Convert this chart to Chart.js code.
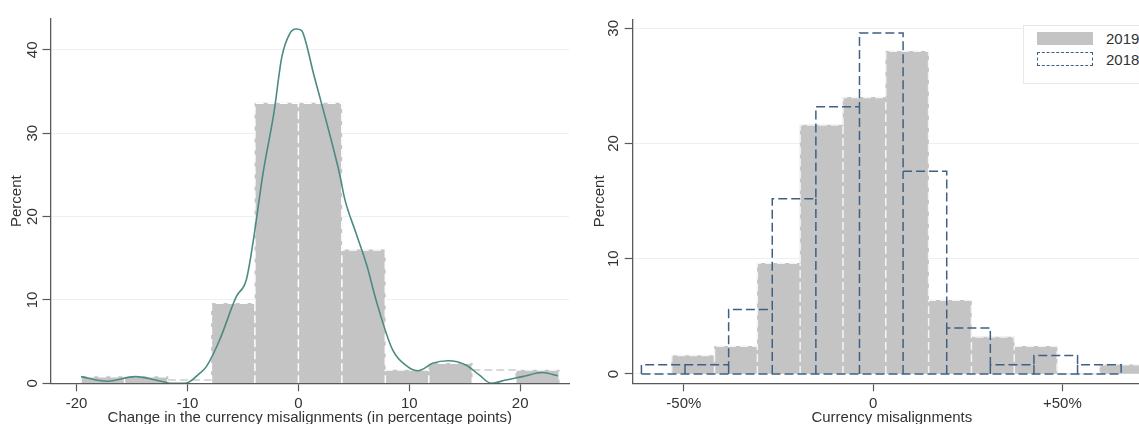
<!DOCTYPE html>
<html>
<head>
<meta charset="utf-8">
<title>Currency misalignments</title>
<script src="https://cdn.jsdelivr.net/npm/chart.js@4.4.1/dist/chart.umd.min.js"></script>
<style>
  html, body { margin: 0; padding: 0; background: #fff; overflow: hidden; }
  #wrap { position: relative; width: 1139px; height: 424px; overflow: hidden; background: #fff; }
  #wrap canvas { position: absolute; top: 0; }
  #changeChart { left: 0; }
  #levelChart { left: 580px; }
  #legend {
    position: absolute; left: 1023px; top: 25px; width: 150px; height: 57px;
    border: 1px solid #e3eaec; background: #fff;
    font: 15px "Liberation Sans", Arial, Helvetica, sans-serif; color: #333;
  }
  .item { position: absolute; left: 13px; height: 20px; }
  .swatch { position: absolute; left: 0; width: 56px; height: 13px; box-sizing: border-box; }
  .label { position: absolute; left: 69px; top: -1px; line-height: 15px; }
  #item2019 { top: 6px; }
  #item2018 { top: 26px; }
  #item2019 .swatch { background: #c4c4c4; }
  #item2018 .swatch { background: #fff; border: 1.5px dashed #3f6082; height: 14px; }
  #item2018 .label { top: 0px; }
</style>
</head>
<body>
<div id="wrap">
  <canvas id="changeChart" width="580" height="424"></canvas>
  <canvas id="levelChart" width="575" height="424"></canvas>
  <div id="legend">
    <div class="item" id="item2019"><div class="swatch"></div><div class="label">2019</div></div>
    <div class="item" id="item2018"><div class="swatch"></div><div class="label">2018</div></div>
  </div>
</div>
<script>
// ---- Left panel: change in misalignment, 2018 -> 2019 (percentage points) ----
const changeBinEdges = [-19.6, -15.68, -11.76, -7.84, -3.92, 0, 3.92, 7.84, 11.76, 15.68, 19.6, 23.52];
const changePercent  = [0.8, 0.8, 0, 9.6, 33.6, 33.6, 16, 1.6, 2.4, 0, 1.6];
// light dashed tops drawn over two of the empty bins
const faintBinIndex  = [2, 9];
const faintBinValue  = [0.4, 1.6];
// kernel density estimate, scaled to percent
const kdeX = [-19.6, -17.3, -14.7, -12.4, -11.5, -10.2, -8.9, -8.3, -7.1, -5.6, -4.7, -4.1, -3.2, -2.2, -1.5, -0.8, -0.2,
              0.3, 0.7, 1.3, 2.0, 2.8, 3.7, 4.2, 5.2, 6.2, 7.0, 8.5, 9.85, 10.8, 12.1, 13.5, 15.1, 16.3, 17.4, 18.7, 20.2, 22.0, 23.4];
const kdeY = [0.8, 0.25, 0.8, 0.25, 0.0, 0.0, 1.2, 2.0, 5.2, 10.4, 12.4, 16.8, 25.1, 32.5, 39.1, 41.9, 42.5,
              42.3, 40.8, 37.5, 34.0, 30.0, 25.2, 22.0, 18.0, 14.0, 10.0, 4.0, 2.0, 1.5, 2.4, 2.7, 2.2, 1.0, 0.0, 0.4, 0.8, 1.3, 0.9];
const changeTicks = [-20, -10, 0, 10, 20];
const changePercentTicks = [0, 10, 20, 30, 40];

// ---- Right panel: level of misalignment (%), 2019 vs 2018 ----
const edges2019   = [-53.2, -41.89, -30.58, -19.27, -7.96, 3.35, 14.66, 25.97, 37.28, 48.59, 59.9, 71.21];
const percent2019 = [1.6, 2.4, 9.6, 21.6, 24.0, 28.0, 6.4, 3.2, 2.4, 0, 0.8];
const edges2018   = [-61.2, -49.68, -38.16, -26.64, -15.12, -3.6, 7.92, 19.44, 30.96, 42.48, 54.0, 65.52];
const percent2018 = [0.8, 0.8, 5.6, 15.2, 23.2, 29.6, 17.6, 4.0, 0.8, 1.6, 0.8];
const levelTicks = [-50, 0, 50];
const levelTickLabels = ['-50%', '0', '+50%'];
const levelPercentTicks = [0, 10, 20, 30];

// ---- helpers that turn bins into library data ----
function barPoints(edges, values) {
  return values.map((v, i) => ({ x: (edges[i] + edges[i + 1]) / 2, y: v }));
}
// rectangle outline of a histogram: top contour, optional baseline, shared inner edges
function outlinePoints(edges, values, withBase) {
  const pts = [{ x: edges[0], y: 0 }];
  values.forEach((v, i) => { pts.push({ x: edges[i], y: v }); pts.push({ x: edges[i + 1], y: v }); });
  pts.push({ x: edges[edges.length - 1], y: 0 });
  if (withBase) pts.push({ x: edges[0], y: 0 });
  for (let i = 1; i < values.length; i++) {
    const m = Math.min(values[i - 1], values[i]);
    if (m > 0) {
      pts.push({ x: edges[i], y: null });
      pts.push({ x: edges[i], y: 0 });
      pts.push({ x: edges[i], y: m });
    }
  }
  return pts;
}

const FONT = { family: '"Liberation Sans", Arial, Helvetica, sans-serif', size: 15, lineHeight: 1 };
const TEXT = '#333333';
const AXIS = '#5a5a5a';
const GRID = '#e9f1f3';
const BAR  = '#c4c4c4';

Chart.defaults.font = FONT;
Chart.defaults.color = TEXT;

function fixedTicks(values) {
  return scale => { scale.ticks = values.map(v => ({ value: v })); };
}

function xAxis(min, max, ticks, title, height, labels) {
  return {
    type: 'linear', min, max, offset: false, bounds: 'data',
    afterBuildTicks: fixedTicks(ticks),
    afterFit: s => { s.height = height; },
    grid: { offset: false, drawOnChartArea: false, drawTicks: true, tickLength: 8, tickColor: AXIS, tickWidth: 1.2 },
    border: { color: AXIS, width: 1.3, z: 1 },
    ticks: {
      color: TEXT, font: FONT, padding: 5, maxRotation: 0, autoSkip: false,
      callback: labels ? (v => labels[ticks.indexOf(v)]) : (v => String(v))
    },
    title: { display: true, text: title, color: TEXT, font: FONT, padding: { top: 0, bottom: -1 } }
  };
}

function yAxis(min, max, ticks, width, tickPad, titlePad) {
  return {
    type: 'linear', min, max, bounds: 'data',
    afterBuildTicks: fixedTicks(ticks),
    afterFit: s => { s.width = width; },
    grid: { offset: false, color: GRID, lineWidth: 1, drawTicks: true, tickLength: 8, tickColor: AXIS, tickWidth: 1.2 },
    border: { color: AXIS, width: 1.3, z: 1 },
    ticks: { color: TEXT, font: FONT, minRotation: 90, maxRotation: 90, crossAlign: 'center', padding: tickPad,
             callback: v => String(v) },
    title: { display: true, text: 'Percent', color: TEXT, font: FONT, padding: { top: titlePad, bottom: 0 } }
  };
}

const common = {
  responsive: false,
  animation: false,
  events: [],
  plugins: { legend: { display: false }, tooltip: { enabled: false } }
};

// Left: histogram of changes with kernel density
const faintPoints = [];
faintBinIndex.forEach((b, k) => {
  if (k > 0) faintPoints.push({ x: changeBinEdges[b], y: null });
  faintPoints.push({ x: changeBinEdges[b], y: faintBinValue[k] });
  faintPoints.push({ x: changeBinEdges[b + 1], y: faintBinValue[k] });
});

new Chart(document.getElementById('changeChart'), {
  type: 'bar',
  data: {
    datasets: [
      { type: 'line', label: 'Kernel density', data: kdeX.map((x, i) => ({ x, y: kdeY[i] })),
        borderColor: '#4b8b82', borderWidth: 1.6, pointRadius: 0, cubicInterpolationMode: 'monotone', order: 0 },
      { type: 'line', label: 'Empty bins', data: faintPoints,
        borderColor: '#cdcdcd', borderWidth: 1.5, borderDash: [8, 4], pointRadius: 0, tension: 0, spanGaps: false, order: 1 },
      { type: 'line', label: 'Bin edges', data: outlinePoints(changeBinEdges, changePercent, false),
        borderColor: '#ffffff', borderWidth: 1.5, borderDash: [8, 4], pointRadius: 0, tension: 0, spanGaps: false, order: 2 },
      { type: 'bar', label: 'Percent', data: barPoints(changeBinEdges, changePercent),
        backgroundColor: BAR, borderWidth: 0, barPercentage: 1, categoryPercentage: 1, grouped: false, order: 3 }
    ]
  },
  options: Object.assign({}, common, {
    layout: { padding: { top: 19, right: 11, left: 0, bottom: 0 } },
    scales: {
      x: xAxis(-22.35, 24.4, changeTicks, 'Change in the currency misalignments (in percentage points)', 40.7),
      y: yAxis(0, 43.7, changePercentTicks, 50.5, 1.7, 9.5)
    }
  })
});

// Right: 2019 histogram with 2018 outline
new Chart(document.getElementById('levelChart'), {
  type: 'bar',
  data: {
    datasets: [
      { type: 'line', label: '2018', data: outlinePoints(edges2018, percent2018, true),
        borderColor: '#3f6082', borderWidth: 1.5, borderDash: [9, 4], pointRadius: 0, tension: 0, spanGaps: false, order: 0 },
      { type: 'line', label: '2019 edges', data: outlinePoints(edges2019, percent2019, false),
        borderColor: '#f4f4f4', borderWidth: 1.5, borderDash: [8, 4], pointRadius: 0, tension: 0, spanGaps: false, order: 1 },
      { type: 'bar', label: '2019', data: barPoints(edges2019, percent2019),
        backgroundColor: BAR, borderWidth: 0, barPercentage: 1, categoryPercentage: 1, grouped: false, order: 2 }
    ]
  },
  options: Object.assign({}, common, {
    layout: { padding: { top: 19.3, right: 4, left: 0, bottom: 0 } },
    scales: {
      x: xAxis(-63.5, 73.4, levelTicks, 'Currency misalignments', 40.7, levelTickLabels),
      y: yAxis(-0.81, 30.78, levelPercentTicks, 52.7, 2.4, 12.5)
    }
  })
});
</script>
</body>
</html>
